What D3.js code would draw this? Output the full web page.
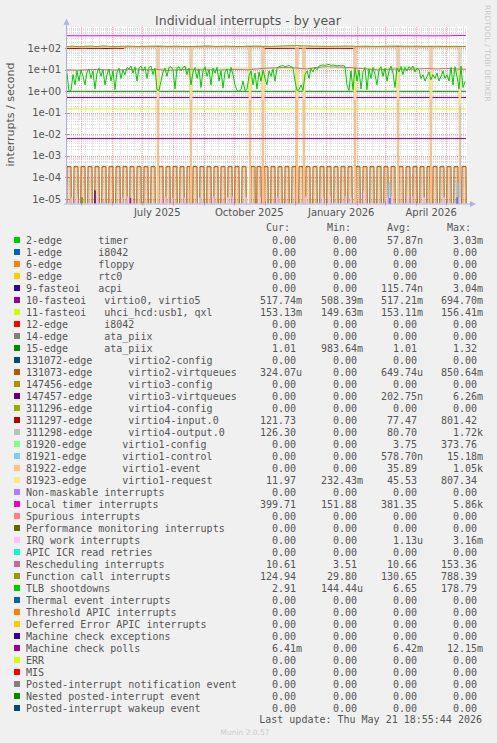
<!DOCTYPE html>
<html><head><meta charset="utf-8">
<script src="https://cdn.jsdelivr.net/npm/d3@7"></script>
<style>body{margin:0;background:#f0f0f0}svg{display:block}</style>
</head><body><svg id="c" width="497" height="743"></svg>
<script>
// ---------------- DATA ----------------
const startTime = Date.UTC(2025, 3, 16, 18, 55, 44);
const endTime = Date.UTC(2026, 4, 21, 18, 55, 44);
const yTickLabels = ["1e-05","1e-04","1e-03","1e-02","1e-01","1e+00","1e+01","1e+02"];
const yTickValues = [1e-5,1e-4,1e-3,1e-2,1e-1,1,10,100];
const xTickLabels = ["July 2025","October 2025","January 2026","April 2026"];

const legendNames = ["2-edge      timer","1-edge      i8042","6-edge      floppy","8-edge      rtc0","9-fasteoi   acpi","10-fasteoi   virtio0, virtio5","11-fasteoi   uhci_hcd:usb1, qxl","12-edge      i8042","14-edge      ata_piix","15-edge      ata_piix","131072-edge      virtio2-config","131073-edge      virtio2-virtqueues","147456-edge      virtio3-config","147457-edge      virtio3-virtqueues","311296-edge      virtio4-config","311297-edge      virtio4-input.0","311298-edge      virtio4-output.0","81920-edge      virtio1-config","81921-edge      virtio1-control","81922-edge      virtio1-event","81923-edge      virtio1-request","Non-maskable interrupts","Local timer interrupts","Spurious interrupts","Performance monitoring interrupts","IRQ work interrupts","APIC ICR read retries","Rescheduling interrupts","Function call interrupts","TLB shootdowns","Thermal event interrupts","Threshold APIC interrupts","Deferred Error APIC interrupts","Machine check exceptions","Machine check polls","ERR","MIS","Posted-interrupt notification event","Nested posted-interrupt event","Posted-interrupt wakeup event"];
const legendColors = ["#00CC00","#0066B3","#FF8000","#FFCC00","#330099","#990099","#CCFF00","#FF0000","#808080","#008F00","#00487D","#B35A00","#B38F00","#6B006B","#8FB300","#B30000","#BEBEBE","#80FF80","#80C9FF","#FFC080","#FFE680","#AA80FF","#EE00CC","#FF8080","#666600","#FFBFFF","#00FFCC","#CC6699","#999900","#00CC00","#0066B3","#FF8000","#FFCC00","#330099","#990099","#CCFF00","#FF0000","#808080","#008F00","#00487D"];
const curValues = ["0.00","0.00","0.00","0.00","0.00","517.74m","153.13m","0.00","0.00","1.01","0.00","324.07u","0.00","0.00","0.00","121.73","126.30","0.00","0.00","0.00","11.97","0.00","399.71","0.00","0.00","0.00","0.00","10.61","124.94","2.91","0.00","0.00","0.00","0.00","6.41m","0.00","0.00","0.00","0.00","0.00"];
const minValues = ["0.00","0.00","0.00","0.00","0.00","508.39m","149.63m","0.00","0.00","983.64m","0.00","0.00","0.00","0.00","0.00","0.00","0.00","0.00","0.00","0.00","232.43m","0.00","151.88","0.00","0.00","0.00","0.00","3.51","29.80","144.44u","0.00","0.00","0.00","0.00","0.00","0.00","0.00","0.00","0.00","0.00"];
const avgValues = ["57.87n","0.00","0.00","0.00","115.74n","517.21m","153.11m","0.00","0.00","1.01","0.00","649.74u","0.00","202.75n","0.00","77.47","80.70","3.75","578.70n","35.89","45.53","0.00","381.35","0.00","0.00","1.13u","0.00","10.66","130.65","6.65","0.00","0.00","0.00","0.00","6.42m","0.00","0.00","0.00","0.00","0.00"];
const maxValues = ["3.03m","0.00","0.00","0.00","3.04m","694.70m","156.41m","0.00","0.00","1.32","0.00","850.64m","0.00","6.26m","0.00","801.42","1.72k","373.76","15.18m","1.05k","807.34","0.00","5.86k","0.00","0.00","3.16m","0.00","153.36","788.39","178.79","0.00","0.00","0.00","0.00","12.15m","0.00","0.00","0.00","0.00","0.00"];

// series as [dayOffset, value] pairs (day 0 = left edge of the graph)
const timer2edge = [[14,0],[15,1.2e-5],[16,0],[132,0],[133,1.2e-5],[134,0]];
const acpi9 = [[322,0],[323,1.1e-5],[324,0],[389,0],[390,1.1e-5],[391,0]];
const virtio0_5 = [[0,0.52],[100,0.517],[200,0.518],[300,0.517],[399,0.518]];
const uhciQxl = [[0,0.153],[100,0.153],[200,0.153],[300,0.153],[399,0.153]];
const ataPiix15 = [[0,1.01],[100,1.01],[200,1.01],[300,1.01],[399,1.01]];
const virtio3Virtq = [[27,0],[28,2.5e-5],[29,0],[63,0],[64,1.1e-5],[65,0],[322,0],[323,1.1e-5],[324,0],[389,0],[390,1.2e-5],[391,0]];
const virtio4Input = [[0,100],[8,98],[16,101],[24,99],[32,100],[40,98],[48,101],[56,99],[60,118],[90,119],[110,118],[150,119],[196,118],[197,100],[210,99],[230,101],[250,99],[270,100],[288,99],[289,118],[330,119],[360,118],[399,120]];
const virtio4Output = [[0,118],[90,117],[91,0],[92,118],[123,117],[124,0],[125,118],[182,117],[183,0],[184,118],[195,117],[196,0],[197,118],[229,117],[230,0],[231,118],[236,117],[237,0],[238,118],[287,117],[288,0],[289,118],[330,117],[331,0],[332,118],[363,117],[364,0],[365,118],[392,117],[393,0],[394,120],[399,122]];
const virtio1Config = [[92,11],[100,12],[110,13],[122,12],[327,12],[335,14],[345,13],[352,12]];
const virtio1Control = [[321,0],[322,5.5e-5],[323,5.5e-5],[324,0],[389,0],[390,5.5e-5],[391,5.5e-5],[392,0]];
const virtio1Event = [[0,112],[90,114],[91,0],[92,112],[123,113],[124,0],[125,112],[182,113],[183,0],[184,112],[195,113],[196,0],[197,112],[229,113],[230,0],[231,112],[236,113],[237,0],[238,112],[287,113],[288,0],[289,114],[330,113],[331,0],[332,114],[363,113],[364,0],[365,114],[392,113],[393,0]];
const virtio1Request = [[0,10],[30,10.5],[60,10],[90,11],[91,0.4],[92,11],[123,11],[124,0.4],[125,11],[182,11],[183,0.4],[184,11],[195,11],[196,0.4],[197,11],[229,11],[230,0.4],[231,11],[236,11],[237,0.4],[238,12],[287,12],[288,0.4],[289,12],[330,12],[331,0.4],[332,12],[363,12],[364,0.4],[365,12],[392,12],[393,0.23],[394,12],[399,12]];
const localTimer = [[0,385],[20,380],[40,382],[60,378],[80,380],[100,383],[120,380],[140,379],[160,382],[180,380],[200,383],[220,385],[240,380],[260,381],[280,379],[300,380],[320,382],[340,384],[360,380],[380,381],[399,399]];
const irqWork = [[4,0],[5,1.2e-5],[6,0],[9,0],[10,1.2e-5],[11,0],[29,0],[30,1.3e-5],[31,0],[54,0],[55,1.2e-5],[56,0],[60,0],[61,1.3e-5],[62,0],[64,0],[65,1.2e-5],[66,0],[93,0],[94,1.2e-5],[95,0],[97,0],[98,1.3e-5],[99,0],[104,0],[105,1.2e-5],[106,0],[117,0],[118,1.2e-5],[119,0],[132,0],[133,1.2e-5],[134,0],[145,0],[146,1.3e-5],[147,0],[160,0],[161,1.2e-5],[162,0],[165,0],[166,1.3e-5],[167,0],[178,0],[179,1.2e-5],[180,0],[192,0],[193,1.2e-5],[194,0],[209,0],[210,1.2e-5],[211,0],[238,0],[239,1.3e-5],[240,0],[255,0],[256,1.2e-5],[257,0],[262,0],[263,1.3e-5],[264,0],[278,0],[279,1.3e-5],[280,0],[283,0],[284,1.2e-5],[285,0],[296,0],[297,2.3e-5],[298,0],[319,0],[320,1.2e-5],[321,0],[324,0],[325,1.3e-5],[326,0],[340,0],[341,1.2e-5],[342,0],[344,0],[345,1.3e-5],[346,0],[356,0],[357,1.2e-5],[358,0],[376,0],[377,1.2e-5],[378,0],[392,0],[393,1.2e-5],[394,0]];
const rescheduling = [[0,10],[10,9.5],[20,10],[30,10.5],[40,10],[50,9.8],[60,10.2],[70,11],[80,10],[90,10.5],[100,9.5],[110,10],[120,10.5],[130,10],[140,10.2],[150,9.8],[160,10],[170,10.5],[180,10],[190,11],[200,12],[210,12.5],[220,13],[230,12],[240,11],[250,13],[260,14],[270,13.5],[280,13],[290,12],[300,11],[310,10],[320,10.5],[330,11],[340,10.5],[350,11],[360,11.5],[370,11],[380,11.5],[390,11],[399,10.6]];
const functionCall = [[0,122],[6,126],[12,118],[18,124],[24,128],[30,121],[36,130],[42,125],[48,119],[54,124],[60,127],[70,122],[80,125],[90,128],[100,123],[110,126],[120,121],[130,124],[140,129],[150,123],[160,126],[170,121],[180,125],[190,128],[200,122],[210,126],[220,132],[230,134],[240,129],[250,126],[260,123],[270,125],[280,128],[290,124],[300,126],[310,122],[320,125],[330,128],[340,124],[350,126],[360,123],[370,125],[380,122],[390,124],[399,121]];
// TLB shootdowns, one value every 2 days
const tlbShootdowns = [7,1.0,1.1,6,2,9,3,10,5,2,8,11,4,9,1.3,7,12,5,10,2,6,11,3,9,1.2,8,12,4,10,6,13,11,15,7,14,3,12,15,9,14,4,13,15,6,12,1.2,1.1,3,8,12,5,13,14,10,1.3,12,14,9,13,15,6,12,2,8,13,4,11,1.5,9,14,5,10,2,12,7,13,3,9,1.4,8,11,4,13,6,2,1.1,1.0,1.2,3,1.1,1.3,5,9,2,7,1.3,8,3,10,4,2,9,5,11,3,12,14,15,16,14,15,16,14,13,3,1.1,1.2,2,1.1,6,9,4,12,8,13,10,15,16,17,16,17,18,16,17,16,15,16,15,16,14,2,1.1,9,1.2,12,3,10,1.3,8,13,1.2,11,4,13,6,2,10,14,5,12,3,9,15,7,1.5,12,8,14,6,13,9,14,11,15,8,12,10,4,6,3,5,8,3.5,6,4,7,3,5,9,4,6,3,13,2,14,5,1.3,15,1.5,2.9];
const machineCheckPolls = [[0,6.42e-3],[100,6.42e-3],[200,6.42e-3],[300,6.42e-3],[399,6.42e-3]];
// virtio2-virtqueues: [firstDay, lastDay] of each raised week, level in irq/s
const virtio2Level = 3.2e-4;
const virtio2Pulses = [[0,4],[7,11],[14,18],[21,25],[28,32],[35,39],[42,46],[49,53],[56,60],[63,67],[70,74],[77,81],[84,88],[92,96],[99,103],[106,110],[113,117],[120,123],[126,130],[133,137],[140,144],[147,151],[154,158],[161,165],[168,172],[175,179],[184,188],[190,194],[197,201],[204,208],[211,215],[218,222],[225,229],[232,236],[239,243],[246,250],[253,257],[260,264],[267,271],[274,278],[281,285],[289,293],[296,300],[303,307],[310,314],[317,321],[324,328],[332,336],[339,343],[346,350],[353,357],[360,363],[366,370],[373,377],[380,384],[387,391],[395,399]];

// ---------------- DRAW ----------------
const svg = d3.select("#c");
const W = 497, H = 743;
const L = 67, R = 467, T = 26.8, B = 203.5;
const DAY = 86400000;
const t = d => new Date(startTime + d * DAY);
const x = d3.scaleUtc().domain([new Date(startTime), new Date(endTime)]).range([L, R]);
const y = d3.scaleLog().domain([Math.pow(10, -5.209), 1000]).range([B, T]);
const FLOOR = 1e-9;
const yy = v => y(Math.max(v, FLOOR));

svg.append("rect").attr("width", W).attr("height", H).attr("fill", "#F0F0F0");
svg.append("rect").attr("x", L).attr("y", T).attr("width", R - L).attr("height", B - T).attr("fill", "#FFFFFF");

const defs = svg.append("defs");
defs.append("clipPath").attr("id", "clip").append("rect").attr("x", L).attr("y", T - 1).attr("width", R - L).attr("height", B - T + 1);

// grid
const grid = svg.append("g");
for (let k = -6; k <= 2; k++) {
  for (let m = 2; m <= 9; m++) {
    const v = m * Math.pow(10, k);
    const py = y(v);
    if (py < T || py > B) continue;
    grid.append("line").attr("x1", L).attr("x2", R).attr("y1", Math.round(py) + 0.5).attr("y2", Math.round(py) + 0.5)
      .attr("stroke", "#DDDDDD").attr("stroke-dasharray", "1,1");
  }
}
const weeks = d3.utcMonday.range(new Date(startTime), new Date(endTime));
weeks.forEach(d => {
  const px = Math.round(x(d)) + 0.5;
  grid.append("line").attr("x1", px).attr("x2", px).attr("y1", T).attr("y2", B)
    .attr("stroke", "#DDDDDD").attr("stroke-dasharray", "1,1");
});
const months = d3.utcMonth.range(new Date(startTime), new Date(endTime));
months.forEach(d => {
  const px = Math.round(x(d)) + 0.5;
  grid.append("line").attr("x1", px).attr("x2", px).attr("y1", T).attr("y2", B)
    .attr("stroke", "#F0A0A0").attr("stroke-dasharray", "1,1");
  grid.append("line").attr("x1", px).attr("x2", px).attr("y1", B - 2).attr("y2", B + 2).attr("stroke", "#F08080");
});
yTickValues.forEach(v => {
  const py = Math.round(y(v)) + 0.5;
  grid.append("line").attr("x1", L).attr("x2", R).attr("y1", py).attr("y2", py)
    .attr("stroke", "#F0A0A0").attr("stroke-dasharray", "1,1");
  grid.append("line").attr("x1", L - 2).attr("x2", L + 2).attr("y1", py).attr("y2", py).attr("stroke", "#F08080");
});

// series
const plot = svg.append("g").attr("clip-path", "url(#clip)");
const line = d3.line().x(p => x(t(p[0]))).y(p => yy(p[1]));
function drawSeries(data, color) {
  plot.append("path").datum(data).attr("d", line).attr("fill", "none").attr("stroke", color).attr("stroke-width", 1);
}
const pulsePts = [];
virtio2Pulses.forEach(([a, b]) => {
  pulsePts.push([a - 0.8, 0], [a, virtio2Level], [b, virtio2Level], [b + 0.8, 0]);
});
const area = d3.area().x(p => x(t(p[0]))).y0(B).y1(p => yy(p[1]));

drawSeries(timer2edge, legendColors[0]);
drawSeries(acpi9, legendColors[4]);
drawSeries(virtio0_5, legendColors[5]);
drawSeries(uhciQxl, legendColors[6]);
drawSeries(ataPiix15, legendColors[9]);
plot.append("path").datum(pulsePts).attr("d", area).attr("fill", legendColors[11]).attr("fill-opacity", 0.25);
drawSeries(pulsePts, legendColors[11]);
drawSeries(virtio3Virtq, legendColors[13]);
drawSeries(virtio4Input, legendColors[15]);
drawSeries(virtio4Output, legendColors[16]);
drawSeries(virtio1Config, legendColors[17]);
drawSeries(virtio1Control, legendColors[18]);
drawSeries(virtio1Event, legendColors[19]);
drawSeries(virtio1Request, legendColors[20]);
drawSeries(localTimer, legendColors[22]);
drawSeries(irqWork, legendColors[25]);
drawSeries(rescheduling, legendColors[27]);
drawSeries(functionCall, legendColors[28]);
drawSeries(tlbShootdowns.map((v, i) => [i * 2, v]), legendColors[29]);
drawSeries(machineCheckPolls, legendColors[34]);

// axes
const axisColor = "#A8B4E8";
svg.append("line").attr("x1", L - 0.5).attr("x2", L - 0.5).attr("y1", B + 1).attr("y2", T - 4).attr("stroke", axisColor);
svg.append("line").attr("x1", L - 3).attr("x2", R + 4).attr("y1", B + 0.5).attr("y2", B + 0.5).attr("stroke", axisColor);
svg.append("path").attr("d", `M${L - 3.5},${T - 2} L${L - 0.5},${T - 8} L${L + 2.5},${T - 2} Z`).attr("fill", axisColor);
svg.append("path").attr("d", `M${R + 3},${B - 2.5} L${R + 9},${B + 0.5} L${R + 3},${B + 3.5} Z`).attr("fill", axisColor);

yTickValues.forEach((v, i) => {
  svg.append("text").attr("x", 61).attr("y", y(v) + 3.5).attr("text-anchor", "end")
    .attr("font-family", "DejaVu Sans").attr("font-size", 10).attr("fill", "#555").text(yTickLabels[i]);
});
const quarterStarts = [Date.UTC(2025, 6, 1), Date.UTC(2025, 9, 1), Date.UTC(2026, 0, 1), Date.UTC(2026, 3, 1)];
quarterStarts.forEach((q, i) => {
  svg.append("text").attr("x", x(new Date(q + 15 * DAY))).attr("y", 216).attr("text-anchor", "middle")
    .attr("font-family", "DejaVu Sans").attr("font-size", 10).attr("fill", "#555").text(xTickLabels[i]);
});

svg.append("text").attr("x", 248).attr("y", 24.5).attr("text-anchor", "middle")
  .attr("font-family", "DejaVu Sans").attr("font-size", 12.5).attr("fill", "#555").text("Individual interrupts - by year");
svg.append("text").attr("transform", "translate(14,114.5) rotate(-90)").attr("text-anchor", "middle")
  .attr("font-family", "DejaVu Sans").attr("font-size", 11).attr("fill", "#555").text("interrupts / second");
svg.append("text").attr("transform", "translate(484.5,5) rotate(90)").attr("text-anchor", "start")
  .attr("font-family", "DejaVu Sans").attr("font-size", 7.5).attr("fill", "#C8C8C8").text("RRDTOOL / TOBI OETIKER");

// legend
const mono = "DejaVu Sans Mono";
const colX = [260, 321, 381, 441];
const fmt = s => /[a-zA-Z]$/.test(s) ? s.padStart(7) : s.padStart(6) + " ";
const lg = svg.append("g").attr("font-family", mono).attr("font-size", 10).attr("fill", "#555").style("white-space", "pre");
[" Cur:", " Min:", " Avg:", " Max:"].forEach((h, i) => {
  lg.append("text").attr("x", colX[i]).attr("y", 231.3).attr("xml:space", "preserve").text(h);
});
legendNames.forEach((name, i) => {
  const cy = 240 + i * 12;
  lg.append("rect").attr("x", 14).attr("y", cy - 3).attr("width", 6).attr("height", 6).attr("fill", legendColors[i]);
  lg.append("text").attr("x", 26).attr("y", cy + 3.6).attr("xml:space", "preserve").text(name);
  [curValues, minValues, avgValues, maxValues].forEach((arr, j) => {
    lg.append("text").attr("x", colX[j]).attr("y", cy + 3.6).attr("xml:space", "preserve").text(fmt(arr[i]));
  });
});
lg.append("text").attr("x", 482).attr("y", 723).attr("text-anchor", "end").attr("xml:space", "preserve")
  .text("Last update: Thu May 21 18:55:44 2026");
svg.append("text").attr("x", 245).attr("y", 734.5).attr("text-anchor", "middle")
  .attr("font-family", "DejaVu Sans").attr("font-size", 7.5).attr("fill", "#CCCCCC").text("Munin 2.0.57");
</script></body></html>
